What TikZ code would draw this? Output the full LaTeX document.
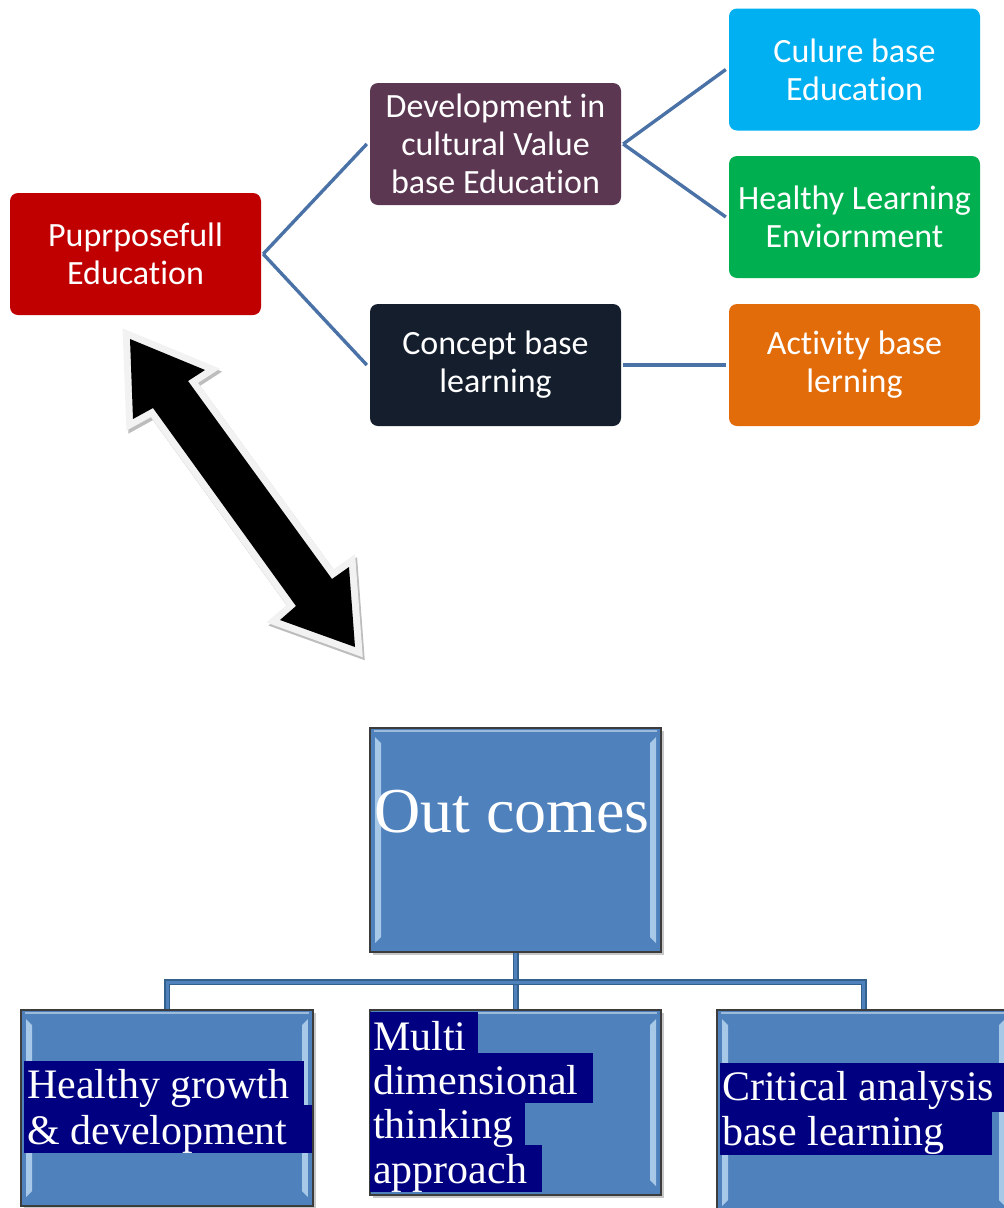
\documentclass[tikz,border=0pt]{standalone}
\usepackage{fontspec}
\setmainfont{Liberation Serif}
\newfontfamily\calfont[Ligatures=NoCommon]{Carlito}

\definecolor{cRed}{HTML}{C00000}
\definecolor{cPlum}{HTML}{5B3752}
\definecolor{cInk}{HTML}{141E2D}
\definecolor{cSky}{HTML}{00B0F0}
\definecolor{cLeaf}{HTML}{00B050}
\definecolor{cAmber}{HTML}{E36C0A}
\definecolor{cLink}{HTML}{4A72A6}
\definecolor{cSteel}{HTML}{4F81BD}
\definecolor{cNavy}{HTML}{000080}
\definecolor{cEdge}{HTML}{3C3C3C}
\definecolor{cBus}{HTML}{34608E}
\definecolor{cGlow}{HTML}{D8EEFF}
\definecolor{cHalo}{HTML}{F2F2F2}
\definecolor{cShade}{HTML}{BDBDBD}

\tikzset{
  topbox/.style={rectangle, rounded corners=8pt, minimum width=251pt, minimum height=122pt,
    text=white, align=center, inner sep=0pt, font={\calfont\fontsize{34}{38}\selectfont}},
  tline/.style={draw=cLink, line width=3.4pt},
  outbox/.style={rectangle, fill=cSteel, draw=cEdge, line width=2pt, inner sep=0pt},
  strip/.style={left color=cSteel!35!cGlow, middle color=white!60!cGlow, right color=cSteel!35!cGlow},
  bus/.style={draw=cBus, double=cSteel, double distance=3pt, line width=1.5pt},
  hl/.style={fill=cNavy},
  btext/.style={text=white, inner sep=0pt, anchor=base west, font={\fontsize{42}{45}\selectfont}},
}

% bevelled blue box: name, x1, y1, x2, y2
\newcommand\bevelbox[5]{%
  \fill[black!22] ({#2+3},{#3+3}) rectangle ({#4+3},{#5+3});
  \node[outbox, minimum width={#4-#2}, minimum height={#5-#3}] (#1) at ({(#2+#4)/2},{(#3+#5)/2}) {};
  \draw[cSteel!55!white, line width=1.2pt] ({#2+4},{#3+3}) -- ({#4-4},{#3+3});
  \shade[strip] ({#2+5},{#3+9}) -- ({#2+11},{#3+15}) -- ({#2+11},{#5-15}) -- ({#2+5},{#5-9}) -- cycle;
  \shade[strip] ({#4-5},{#3+9}) -- ({#4-11},{#3+15}) -- ({#4-11},{#5-15}) -- ({#4-5},{#5-9}) -- cycle;
}

% double-headed block arrow outline
\newcommand\twowayarrow[1]{%
  \path[#1] (130,339) -- (205,370) -- (188,381) -- (332,579) -- (349,567) -- (355,647)
    -- (280,620) -- (296,606) -- (153,408) -- (133,419) -- cycle;
}

\begin{document}
\begin{tikzpicture}[x=1pt, y=-1pt]
\useasboundingbox (0,0) rectangle (1004,1208);

% ---------- upper hierarchy ----------
\node[topbox, fill=cRed]   (purp)     at (135.5,254) {Puprposefull\\Education};
\node[topbox, fill=cPlum]  (dev)      at (495.5,144) {Development in\\cultural Value\\base Education};
\node[topbox, fill=cInk]   (concept)  at (495.5,365) {Concept base\\learning};
\node[topbox, fill=cSky]   (culure)   at (854.5,69.5) {Culure base\\Education};
\node[topbox, fill=cLeaf]  (healthy)  at (854.5,217) {Healthy Learning\\Enviornment};
\node[topbox, fill=cAmber] (activity) at (854.5,365) {Activity base\\lerning};

\draw[tline] ([xshift=2pt]purp.east) -- ([xshift=-3pt]dev.west);
\draw[tline] ([xshift=2pt]purp.east) -- ([xshift=-3pt]concept.west);
\draw[tline] ([xshift=2pt]dev.east) -- ([xshift=-3pt]culure.west);
\draw[tline] ([xshift=2pt]dev.east) -- ([xshift=-3pt]healthy.west);
\draw[tline] ([xshift=2pt]concept.east) -- ([xshift=-3pt]activity.west);

% ---------- block arrow ----------
\twowayarrow{fill=cShade, draw=cShade, line width=14pt, line join=miter, shift={(2,3)}}
\twowayarrow{fill=cHalo, draw=cHalo, line width=14pt, line join=miter}
\twowayarrow{fill=black}

% ---------- outcomes ----------
\bevelbox{out}{370}{728}{661}{952}
\bevelbox{b1}{21}{1010}{313}{1206}
\bevelbox{b2}{370}{1010}{661}{1195}
\bevelbox{b3}{717}{1010}{1010}{1215}

\node[text=white, inner sep=0pt, anchor=base, font={\fontsize{64}{70}\selectfont}] (outlbl) at (512,832) {Out comes};

\draw[bus] (out.south) -- (b2.north);
\draw[bus] (b1.north) -- ++(0,-27) -| (b3.north);

% highlighted labels
\fill[hl] (24,1061) rectangle (304,1105);
\fill[hl] (24,1105) rectangle (312,1153);
\node[btext] (b1l1) at (27,1098) {Healthy growth};
\node[btext] (b1l2) at (27,1144) {\& development};

\fill[hl] (370,1012) rectangle (478,1053);
\fill[hl] (370,1053) rectangle (593,1103);
\fill[hl] (370,1103) rectangle (525,1145);
\fill[hl] (370,1145) rectangle (542,1192);
\node[btext] (b2l1) at (373,1050) {Multi};
\node[btext] (b2l2) at (373,1094) {dimensional};
\node[btext] (b2l3) at (373,1138) {thinking};
\node[btext] (b2l4) at (373,1183) {approach};

\fill[hl] (720,1063) rectangle (1010,1112);
\fill[hl] (720,1112) rectangle (992,1155);
\node[btext] (b3l1) at (722,1100) {Critical analysis};
\node[btext] (b3l2) at (722,1145) {base learning};
\end{tikzpicture}
\end{document}
